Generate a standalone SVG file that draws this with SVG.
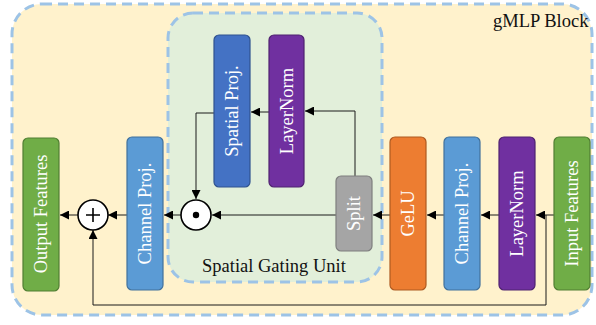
<svg xmlns="http://www.w3.org/2000/svg" width="596" height="325" viewBox="0 0 596 325">
  <defs>
    <marker id="arrow" viewBox="0 0 10 10" refX="10" refY="5" markerWidth="9" markerHeight="9" markerUnits="userSpaceOnUse" orient="auto">
      <path d="M0,0 L10,5 L0,10 Z" fill="#000"/>
    </marker>
  </defs>
  <style>
    .frame { stroke: #9DC3E6; stroke-width: 3; stroke-dasharray: 10 6; }
    .node rect { stroke-width: 1.2; }
    .label { font-family: "Liberation Serif", "Times New Roman", serif; font-size: 18.5px; fill: #fff; text-anchor: middle; dominant-baseline: central; }
    .title { font-family: "Liberation Serif", "Times New Roman", serif; font-size: 18.5px; fill: #111; }
    .wire { fill: none; stroke: #1a1a1a; stroke-width: 1; }
    .op circle { fill: #fff; stroke: #000; stroke-width: 1.6; }
  </style>

  <!-- gMLP block frame -->
  <rect class="frame" x="12" y="4" width="580" height="311" rx="30" fill="#FFF2CC"/>
  <text class="title" x="493" y="27">gMLP Block</text>

  <!-- spatial gating unit frame -->
  <rect class="frame" x="168" y="13" width="214" height="269" rx="25" fill="#E2EFDA"/>
  <text class="title" x="202" y="272">Spatial Gating Unit</text>

  <!-- connectors -->
  <g id="connectors">
    <path class="wire" d="M554,215 L536,215" marker-end="url(#arrow)"/>
    <path class="wire" d="M499,215 L481,215" marker-end="url(#arrow)"/>
    <path class="wire" d="M444,215 L427,215" marker-end="url(#arrow)"/>
    <path class="wire" d="M390,215 L373,215" marker-end="url(#arrow)"/>
    <path class="wire" d="M336,215 L212,215" marker-end="url(#arrow)"/>
    <path class="wire" d="M355,176 L355,111 L305,111" marker-end="url(#arrow)"/>
    <path class="wire" d="M269,112 L251,112" marker-end="url(#arrow)"/>
    <path class="wire" d="M214,113 L196,113 L196,199" marker-end="url(#arrow)"/>
    <path class="wire" d="M181,215 L164,215" marker-end="url(#arrow)"/>
    <path class="wire" d="M127,215 L108,215" marker-end="url(#arrow)"/>
    <path class="wire" d="M78,215 L60,215" marker-end="url(#arrow)"/>
    <path class="wire" d="M546,215 L546,305 L93,305 L93,230" stroke="#555" marker-end="url(#arrow)"/>
  </g>

  <!-- nodes -->
  <g id="input-features" class="node">
    <rect x="554" y="137" width="36" height="153" rx="5" fill="#70AD47" stroke="#507E32"/>
    <text class="label" transform="translate(572,213.5) rotate(-90)">Input Features</text>
  </g>
  <g id="layernorm" class="node">
    <rect x="499" y="137" width="36" height="153" rx="5" fill="#7030A0" stroke="#4F2270"/>
    <text class="label" transform="translate(517,213.5) rotate(-90)">LayerNorm</text>
  </g>
  <g id="channel-proj-in" class="node">
    <rect x="444" y="137" width="36" height="153" rx="5" fill="#5B9BD5" stroke="#41719C"/>
    <text class="label" transform="translate(462,213.5) rotate(-90)">Channel Proj.</text>
  </g>
  <g id="gelu" class="node">
    <rect x="390" y="137" width="36" height="153" rx="5" fill="#ED7D31" stroke="#AE5A21"/>
    <text class="label" transform="translate(408,213.5) rotate(-90)">GeLU</text>
  </g>
  <g id="split" class="node">
    <rect x="336" y="176" width="36" height="75" rx="5" fill="#A5A5A5" stroke="#7F7F7F"/>
    <text class="label" transform="translate(354,213.5) rotate(-90)">Split</text>
  </g>
  <g id="sgu-layernorm" class="node">
    <rect x="269" y="35" width="35" height="152" rx="5" fill="#7030A0" stroke="#4F2270"/>
    <text class="label" transform="translate(286.5,111) rotate(-90)">LayerNorm</text>
  </g>
  <g id="spatial-proj" class="node">
    <rect x="214" y="35" width="36" height="152" rx="5" fill="#4472C4" stroke="#2F528F"/>
    <text class="label" transform="translate(232,111) rotate(-90)">Spatial Proj.</text>
  </g>
  <g id="gating" class="node op">
    <circle cx="196" cy="215" r="15"/>
    <circle cx="196" cy="215" r="3.2" fill="#000" stroke="none" style="fill:#000;stroke:none"/>
  </g>
  <g id="channel-proj-out" class="node">
    <rect x="127" y="137" width="36" height="153" rx="5" fill="#5B9BD5" stroke="#41719C"/>
    <text class="label" transform="translate(145,213.5) rotate(-90)">Channel Proj.</text>
  </g>
  <g id="residual-add" class="node op">
    <circle cx="93" cy="215" r="15"/>
    <path d="M86,215 H100 M93,208 V222" stroke="#000" stroke-width="1.6" fill="none"/>
  </g>
  <g id="output-features" class="node">
    <rect x="23" y="138" width="36" height="153" rx="5" fill="#70AD47" stroke="#507E32"/>
    <text class="label" transform="translate(41,214) rotate(-90)">Output Features</text>
  </g>
</svg>
